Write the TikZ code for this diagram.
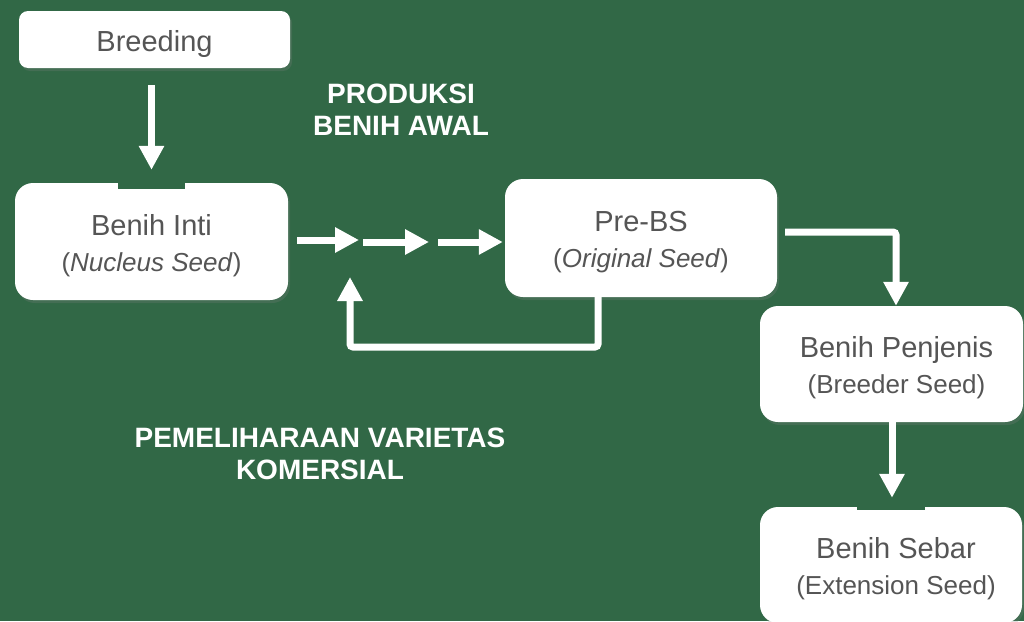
\documentclass[tikz,border=0pt]{standalone}
\usepackage{fontspec}
\setmainfont{Liberation Sans}
\usetikzlibrary{arrows.meta,shadows}
\definecolor{bggreen}{RGB}{49,104,70}
\definecolor{txtgray}{RGB}{85,85,85}
\newcommand{\boxtxt}[2][0pt]{\raisebox{-4.5pt}[\height][\depth]{\begin{tabular}{@{\hspace{#1}}c@{}}#2\end{tabular}}}
\tikzset{
  box/.style={fill=white, rounded corners=18pt, text=txtgray, inner sep=0pt,
    font=\fontsize{26}{36}\selectfont,
    drop shadow={opacity=0.25, shadow xshift=2pt, shadow yshift=-3pt}},
  arr/.style={draw=white, line width=7pt, -{Triangle[width=24pt,length=24pt]}},
  lbl/.style={text=white, align=center, font=\bfseries\fontsize{28}{32}\selectfont}
}
\begin{document}
\begin{tikzpicture}[x=1pt,y=-1pt]
\path[use as bounding box, fill=bggreen] (0,0) rectangle (1024,621);
\clip (0,0) rectangle (1024,621);
\node[box, rounded corners=9pt, minimum width=271pt, minimum height=57pt, font=\fontsize{29}{36}\selectfont] (breeding) at (154.5,39.5) {\boxtxt{Breeding}};
\node[box, minimum width=273pt, minimum height=117pt] (inti) at (151.5,241.5) {\boxtxt{{\fontsize{29}{36}\selectfont Benih Inti}\\(\textit{Nucleus Seed})}};
\node[box, minimum width=272pt, minimum height=118pt] (prebs) at (641,238) {\boxtxt{{\fontsize{29}{36}\selectfont Pre-BS}\\(\textit{Original Seed})}};
\node[box, minimum width=263pt, minimum height=116pt] (penjenis) at (891.5,364) {\boxtxt[10pt]{{\fontsize{29}{36}\selectfont Benih Penjenis}\\(Breeder Seed)}};
\node[box, minimum width=262pt, minimum height=116pt] (sebar) at (891,565) {\boxtxt[10pt]{{\fontsize{29}{36}\selectfont Benih Sebar}\\(Extension Seed)}};
\fill[bggreen] (118,182) rectangle (185,189);
\fill[bggreen] (857,505) rectangle (925,510);
\node[lbl] (produksi) at (401,110) {PRODUKSI\\BENIH AWAL};
\node[lbl] (pemeliharaan) at (320,454) {PEMELIHARAAN VARIETAS\\KOMERSIAL};
% Breeding -> Benih Inti
\draw[arr, shorten <=17pt, shorten >=13pt] (inti.north |- breeding.south) -- (inti.north);
% horizontal chain
\coordinate (h1) at (359,240);
\coordinate (h2) at (429,242);
\coordinate (h3s) at (438,242);
\coordinate (h2s) at (363,242);
\draw[arr, shorten <=9pt] (inti.east |- h1) -- (h1);
\draw[arr] (h2s) -- (h2);
\draw[arr, shorten >=2pt] (h3s) -- (prebs.west |- h3s);
% feedback loop
\coordinate (fb) at (598,347);
\coordinate (fbl) at (350,347);
\coordinate (fbt) at (350,277);
\draw[arr, rounded corners=3pt] (fb |- prebs.south) ++(0,-8) -- (fb) -- (fbl) -- (fbt);
% Pre-BS -> Benih Penjenis
\coordinate (c1) at (896,232);
\draw[arr, rounded corners=3pt, shorten <=8pt] (prebs.east |- c1) -- (c1) -- (c1 |- penjenis.north);
% Benih Penjenis -> Benih Sebar
\coordinate (c2) at (892,422);
\draw[arr, shorten >=9pt] (c2) -- (c2 |- sebar.north);
\end{tikzpicture}
\end{document}
